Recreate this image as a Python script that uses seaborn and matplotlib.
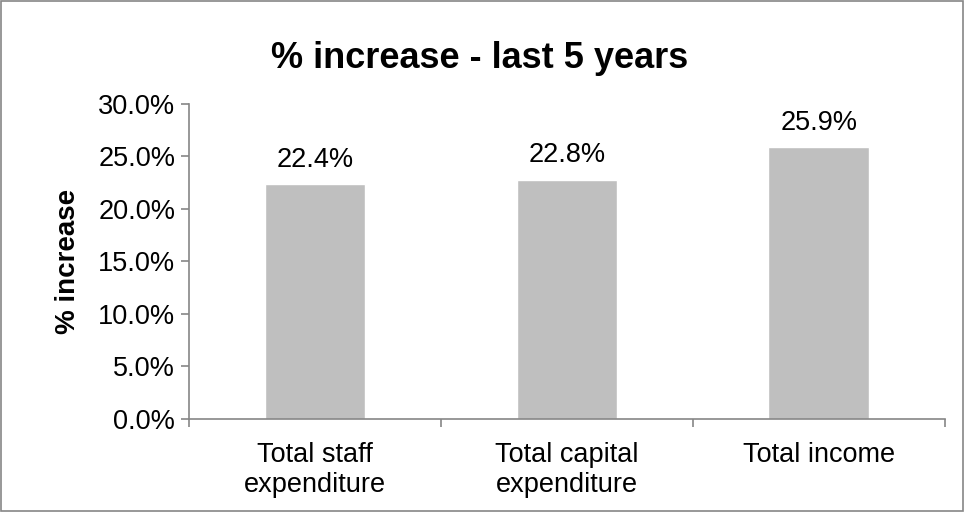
import matplotlib
matplotlib.use("Agg")
import matplotlib.pyplot as plt
import seaborn as sns
import pandas as pd
from matplotlib.patches import Rectangle

categories = ["Total staff\nexpenditure", "Total capital\nexpenditure", "Total income"]
values = [22.4, 22.8, 25.9]
yticks = [0, 5, 10, 15, 20, 25, 30]

df = pd.DataFrame({"category": categories, "value": values})

sns.set_style("white")
plt.rcParams['font.family'] = ['Liberation Sans', 'DejaVu Sans']
plt.rcParams['text.color'] = 'black'
plt.rcParams['xtick.color'] = 'black'
plt.rcParams['ytick.color'] = 'black'
plt.rcParams['axes.labelcolor'] = 'black'

fig = plt.figure(figsize=(9.65, 5.12), dpi=100)
ax = fig.add_axes([0.196, 0.182, 0.783, 0.615])

sns.barplot(data=df, x="category", y="value", color="#bfbfbf",
            width=0.4, saturation=1, ax=ax)

ax.set_ylim(0, 30)
ax.set_xlim(-0.5, 2.5)
ax.set_yticks(yticks)
ax.set_yticklabels([f"{t:.1f}%" for t in yticks], fontsize=19.5)
ax.tick_params(axis="x", labelsize=19.5, length=0, pad=17)
ax.tick_params(axis="y", length=6, color="#868686", width=1.2, left=True, pad=4)
for lab in ax.get_xticklabels():
    lab.set_linespacing(1.2)

# category boundary ticks on the x axis
ax.set_xticks([-0.5, 0.5, 1.5, 2.5], minor=True)
ax.tick_params(axis="x", which="minor", length=6, color="#868686",
               width=1.2, bottom=True)

for s in ["top", "right"]:
    ax.spines[s].set_visible(False)
for s in ["left", "bottom"]:
    ax.spines[s].set_color("#868686")
    ax.spines[s].set_linewidth(1.2)

for i, v in enumerate(values):
    ax.annotate(f"{v:.1f}%", (i, v), xytext=(0, 8), textcoords="offset points",
                ha="center", va="bottom", fontsize=19.5)

ax.set_xlabel("")
ax.set_ylabel("% increase", fontsize=20, fontweight="bold", labelpad=12)
fig.text(0.497, 0.886, "% increase - last 5 years", ha="center", va="center",
         fontsize=26, fontweight="bold")

fig.patches.append(Rectangle((0.001, 0.002), 0.997, 0.996, transform=fig.transFigure,
                             fill=False, edgecolor="#868686", linewidth=1.2))

fig.savefig("out.png", dpi=100)
